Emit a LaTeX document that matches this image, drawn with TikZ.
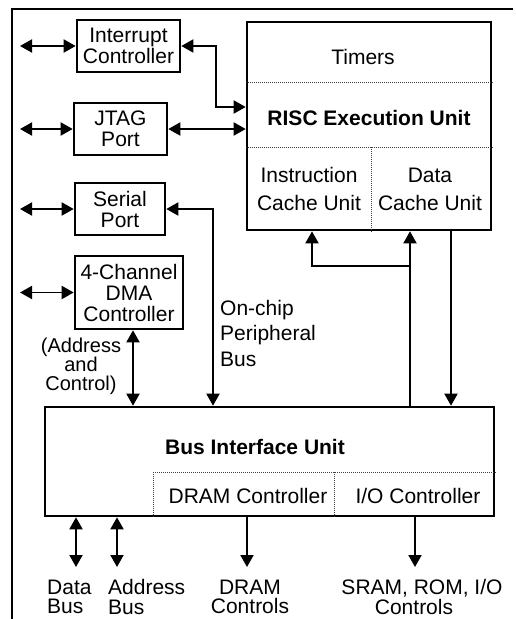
\documentclass[tikz,border=0pt]{standalone}
\usepackage{fontspec}
\setmainfont{Liberation Sans}
\usetikzlibrary{arrows.meta}
\begin{document}
\begin{tikzpicture}[x=1pt,y=-1pt,
  every node/.style={font=\fontsize{21}{21}\selectfont, inner sep=0pt},
  box/.style={draw, line width=2.6pt, align=center},
  conn/.style={line width=1.9pt},
  arr/.style={conn, -{Triangle[length=12pt,width=13pt]}},
  darr/.style={conn, {Triangle[length=12pt,width=13pt]}-{Triangle[length=12pt,width=13pt]}},
  dotl/.style={line width=1pt, dash pattern=on 1pt off 1pt, black!75},
  lbl/.style={align=center}]
\useasboundingbox (0,0) rectangle (515,619);
% outer frame
\draw[line width=2.5pt] (12,619) -- (12,9) -- (513,9);

% boxes
\node[box, minimum width=103pt, minimum height=52pt] (int) at (128.5,46) {Interrupt\\Controller};
\node[box, minimum width=93pt, minimum height=52pt] (jtag) at (120.5,129) {JTAG\\Port};
\node[box, minimum width=90pt, minimum height=52pt] (ser) at (120,209) {Serial\\Port};
\node[box, minimum width=108pt, minimum height=73pt] (dma) at (129,292.5) {4-Channel\\DMA\\Controller};
\node[box, minimum width=244pt, minimum height=208pt] (risc) at (369,126) {};
\node[box, minimum width=449pt, minimum height=109pt] (biu) at (269.5,461.5) {};

% RISC internals
\draw[dotl] (risc.west |- 0,82) -- (risc.east |- 0,82);
\draw[dotl] (risc.west |- 0,147) -- (risc.east |- 0,147);
\draw[dotl] (371,147) -- (371,0 |- risc.south);
\node (tim) at (363,57) {Timers};
\node (exe) at (369,118) {\bfseries RISC Execution Unit};
\node[lbl, font=\fontsize{21}{28}\selectfont] (icu) at (309,189) {Instruction\\Cache Unit};
\node[lbl, font=\fontsize{21}{28}\selectfont] (dcu) at (430,189) {Data\\Cache Unit};

% BIU internals
\draw[dotl] (153,472) -- (biu.east |- 0,472);
\draw[dotl] (153,472) -- (153,0 |- biu.south);
\draw[dotl] (334,472) -- (334,0 |- biu.south);
\node (biut) at (255,447) {\bfseries Bus Interface Unit};
\node (dramc) at (248,496) {DRAM Controller};
\node (ioc) at (418,496) {I/O Controller};

% left external arrows
\coordinate (l1) at (20,0);
\draw[darr] (l1 |- int.west) -- (int.west);
\draw[darr] (l1 |- jtag.west) -- (jtag.west);
\draw[darr] (l1 |- ser.west) -- (ser.west);
\draw[darr] (l1 |- dma.west) -- (dma.west);

% to RISC
\coordinate (ir) at (216,107);
\draw[darr] (int.east) -| (ir) -- (ir -| risc.west);
\draw[darr] (jtag.east) -- (jtag.east -| risc.west);

% serial bus
\coordinate (sb) at (213,0);
\draw[darr] (ser.east) -| (sb |- biu.north);
% DMA
\coordinate (dx) at (133,0);
\draw[darr] (dx |- dma.south) -- (dx |- biu.north);

% RISC <-> BIU
\coordinate (c1) at (312,0);
\coordinate (c2) at (410,0);
\coordinate (c3) at (451,0);
\coordinate (jn) at (410,266);
\draw[arr] (c2 |- biu.north) -- (c2 |- risc.south);
\draw[arr] (jn) -| (c1 |- risc.south);
\draw[arr] (c3 |- risc.south) -- (c3 |- biu.north);

% bottom arrows
\coordinate (b1) at (76,567);
\coordinate (b2) at (117,567);
\coordinate (b3) at (247,567);
\coordinate (b4) at (415,567);
\draw[darr] (b1 |- biu.south) -- (b1);
\draw[darr] (b2 |- biu.south) -- (b2);
\draw[arr] (b3 |- biu.south) -- (b3);
\draw[arr] (b4 |- biu.south) -- (b4);

% labels
\node[lbl, font=\fontsize{20}{19}\selectfont] (addc) at (81,366) {(Address\\and\\Control)};
\node[align=left, anchor=west, font=\fontsize{21}{25.5}\selectfont] (ocb) at (220,333) {On-chip\\Peripheral\\Bus};
\node[align=left, anchor=west, font=\fontsize{21}{19.5}\selectfont] (db) at (47,597) {Data\\Bus};
\node[align=left, anchor=west, font=\fontsize{21}{19.5}\selectfont] (ab) at (108,597) {Address\\Bus};
\node[lbl, font=\fontsize{21}{19.5}\selectfont] (dc) at (250,597) {DRAM\\Controls};
\node[lbl, font=\fontsize{21}{19.5}\selectfont] (sc) at (422,597) {SRAM, ROM, I/O\\Controls\hspace*{16pt}};
\end{tikzpicture}
\end{document}
